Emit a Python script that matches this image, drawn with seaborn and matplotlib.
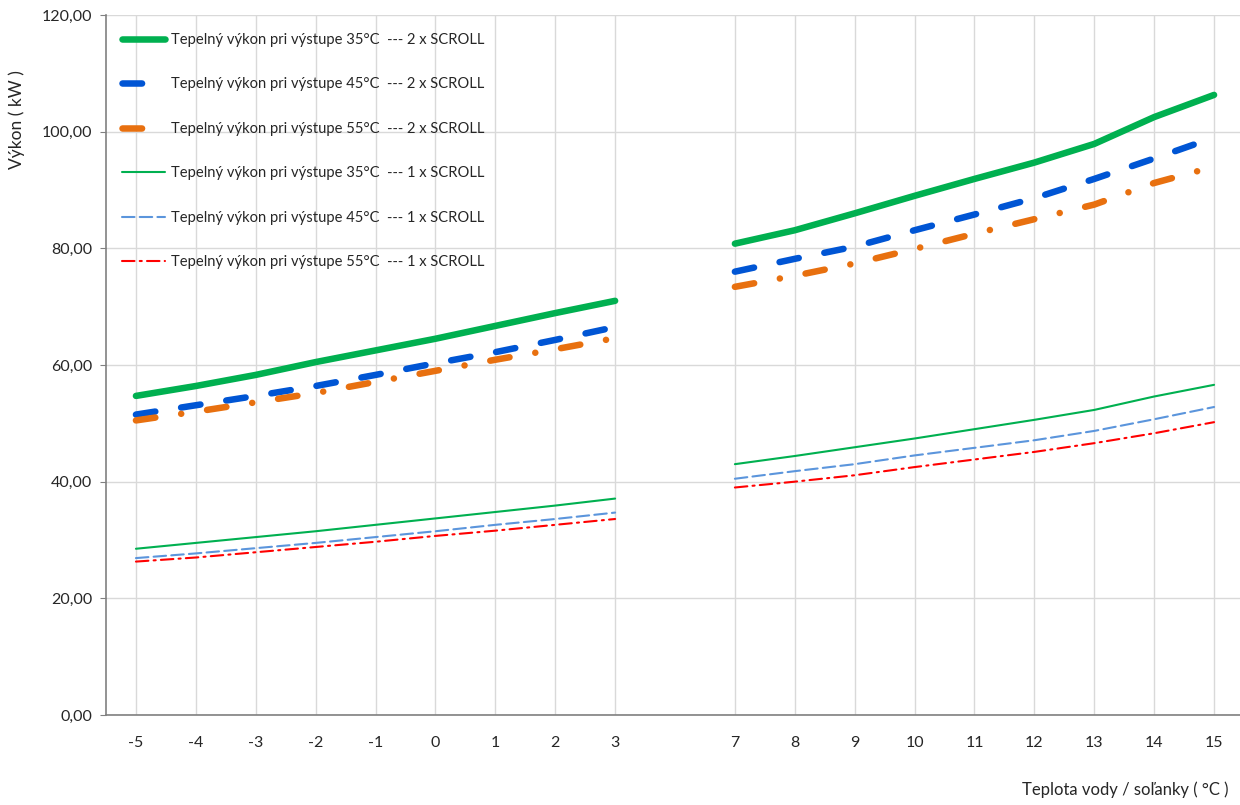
import pandas as pd
import matplotlib
matplotlib.use('Agg')
import matplotlib.pyplot as plt
from matplotlib.lines import Line2D
import seaborn as sns

# water / brine temperature (°C), two branches with an empty slot between them
temps_low = [-5, -4, -3, -2, -1, 0, 1, 2, 3]
temps_high = [7, 8, 9, 10, 11, 12, 13, 14, 15]

# heating output in kW (first 9 values -> temps_low, last 9 -> temps_high)
out35_2x = [54.7, 56.4, 58.3, 60.5, 62.5, 64.5, 66.7, 68.9, 71.0,
            80.8, 83.1, 86.0, 89.0, 91.9, 94.7, 97.9, 102.5, 106.3]
out45_2x = [51.5, 53.1, 54.7, 56.4, 58.3, 60.3, 62.2, 64.3, 66.5,
            76.0, 78.2, 80.3, 83.1, 85.8, 88.6, 91.9, 95.4, 99.0]
out55_2x = [50.5, 52.0, 53.6, 55.2, 57.1, 59.0, 60.9, 62.7, 64.6,
            73.4, 75.3, 77.4, 79.9, 82.5, 85.0, 87.5, 91.2, 94.0]
out35_1x = [28.5, 29.5, 30.5, 31.5, 32.6, 33.7, 34.8, 35.9, 37.1,
            43.0, 44.4, 45.9, 47.4, 49.0, 50.6, 52.3, 54.6, 56.6]
out45_1x = [26.9, 27.7, 28.6, 29.5, 30.5, 31.5, 32.6, 33.6, 34.7,
            40.5, 41.8, 43.0, 44.5, 45.8, 47.1, 48.7, 50.7, 52.8]
out55_1x = [26.3, 27.0, 27.9, 28.8, 29.7, 30.7, 31.6, 32.6, 33.6,
            39.0, 40.0, 41.1, 42.5, 43.8, 45.1, 46.6, 48.3, 50.2]

labels = [
    'Tepelný výkon pri výstupe 35°C  --- 2 x SCROLL',
    'Tepelný výkon pri výstupe 45°C  --- 2 x SCROLL',
    'Tepelný výkon pri výstupe 55°C  --- 2 x SCROLL',
    'Tepelný výkon pri výstupe 35°C  --- 1 x SCROLL',
    'Tepelný výkon pri výstupe 45°C  --- 1 x SCROLL',
    'Tepelný výkon pri výstupe 55°C  --- 1 x SCROLL',
]
y_ticks = [0, 20, 40, 60, 80, 100, 120]

# category axis like in Excel: one blank category between 3 and 7
categories = [str(t) for t in temps_low] + [''] + [str(t) for t in temps_high]
xpos = [categories.index(str(t)) for t in temps_low + temps_high]
segment = ['low'] * len(temps_low) + ['high'] * len(temps_high)

sns.set_style('white')
plt.rcParams['font.family'] = ['Lato', 'DejaVu Sans']

fig = plt.figure(figsize=(12.4, 8.05), dpi=100)
ax = fig.add_axes([106 / 1240, 90 / 805, 1138 / 1240, 700 / 805])

thick = 4.7
thin = 1.5
styles = [
    (out35_2x, '#00b050', thick, '-'),
    (out45_2x, '#0055d4', thick, (0, (3.0, 4.0))),
    (out55_2x, '#e8700f', thick, (0, (3.0, 4.0, 0.01, 4.0))),
    (out35_1x, '#00b050', thin, '-'),
    (out45_1x, '#5b95dc', thin, (0, (6, 2.5))),
    (out55_1x, '#ff0000', thin, (0, (6, 2.5, 1, 2.5))),
]

handles = []
for (vals, color, lw, ls), name in zip(styles, labels):
    d = pd.DataFrame({'x': xpos, 'kW': vals, 'seg': segment})
    sns.lineplot(data=d, x='x', y='kW', units='seg', estimator=None,
                 color=color, lw=lw, linestyle=ls, ax=ax, legend=False,
                 solid_capstyle='round', dash_capstyle='round', zorder=3)
    handles.append(Line2D([], [], color=color, lw=lw, linestyle=ls,
                          solid_capstyle='round', dash_capstyle='round',
                          label=name))

ax.set_xlim(-0.5, len(categories) - 0.5)
ax.set_ylim(0, 120)
ax.set_xticks(xpos)
ax.set_xticklabels([str(t) for t in temps_low + temps_high])
ax.set_yticks(y_ticks)
ax.set_yticklabels([f'{v:.2f}'.replace('.', ',') for v in y_ticks])
ax.set_xlabel('')
ax.set_ylabel('')

ax.grid(True, color='#d9d9d9', lw=1, zorder=0)
ax.set_axisbelow(True)
for side in ['top', 'right']:
    ax.spines[side].set_visible(False)
for side in ['left', 'bottom']:
    ax.spines[side].set_color('#808080')
    ax.spines[side].set_linewidth(1.2)
ax.tick_params(axis='y', length=4, color='#808080', pad=6, labelsize=11.5,
               labelcolor='#262626', left=True)
ax.tick_params(axis='x', length=0, pad=15, labelsize=11.5, labelcolor='#262626')

ax.legend(handles=handles, loc='upper left',
          bbox_to_anchor=(122 / 1240, 1 - 33 / 805),
          bbox_transform=fig.transFigure, frameon=False, fontsize=10.6,
          handlelength=2.95, handletextpad=0.35, labelspacing=2.07,
          borderpad=0, borderaxespad=0, labelcolor='#262626')

fig.text(17 / 1240, 1 - 120 / 805, 'Výkon ( kW )', rotation=90,
         ha='center', va='center', fontsize=12.5, color='#262626')
fig.text(1228 / 1240, 1 - 790 / 805, 'Teplota vody / soľanky ( °C )',
         ha='right', va='center', fontsize=12, color='#262626')

fig.savefig('out.png', dpi=100)
